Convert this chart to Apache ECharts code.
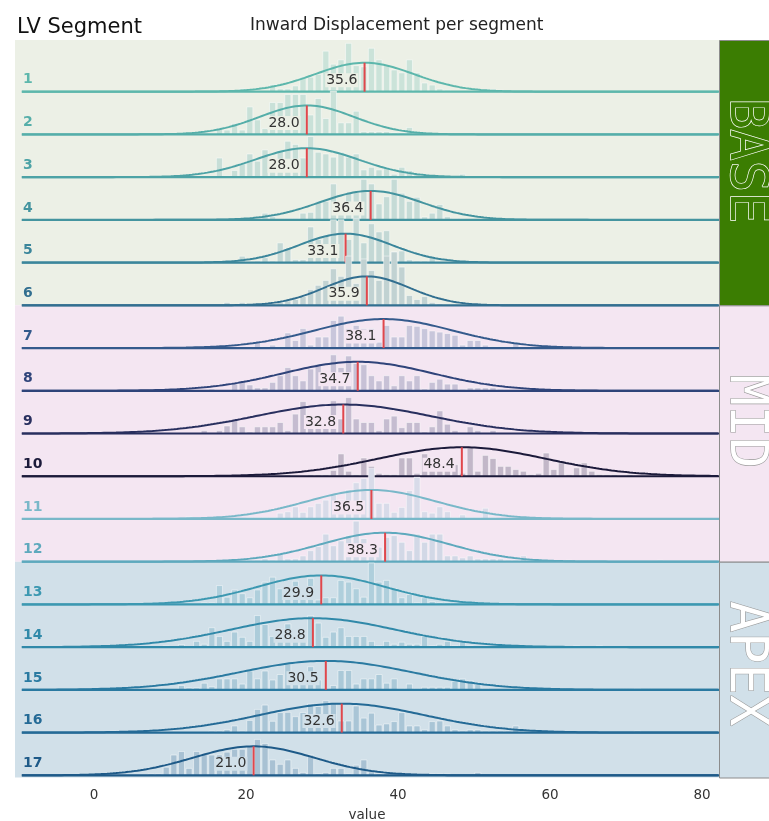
<!DOCTYPE html>
<html>
<head>
<meta charset="utf-8">
<script src="https://cdn.jsdelivr.net/npm/echarts@6/dist/echarts.min.js"></script>
<style>
  html, body { margin: 0; padding: 0; background: #ffffff; }
  #chart { width: 769px; height: 821px; }
</style>
</head>
<body>
<div id="chart"></div>
<script>
// ---- data ---------------------------------------------------------------
const segments = ['1','2','3','4','5','6','7','8','9','10','11','12','13','14','15','16','17'];
const segMeans = [35.6, 28.0, 28.0, 36.4, 33.1, 35.9, 38.1, 34.7, 32.8, 48.4, 36.5, 38.3, 29.9, 28.8, 30.5, 32.6, 21.0];
const segSpread = [6.5, 6.2, 6.8, 6.7, 6.1, 5.6, 9.1, 9.8, 11.4, 11.0, 8.5, 8.4, 8.4, 10.8, 11.4, 10.8, 8.0];

// histogram: first bin of each segment and bin heights (1-unit bins, density scale where fit peak = 10)
const histStart = [19, 16, 16, 22, 19, 17, 21, 15, -2, 25, 12, 20, 14, 9, 8, 2, 7];
const histCounts = [
  [1,0,0,0,2.5, 1,1,2,5,5, 6,14,9.5,11,16.7, 9,8.6,15,11,9, 7.5,6.5,11,6.5,3, 2.3,1,0.5,0,0, 0,0,0.8,0.8,0.5],
  [2,1.5,3.8,1.5,9.5, 5,2,11,11,13.8, 13.8,13.8,6.7,12.4,5.5, 15,4,4,8,1, 1,1,1,0.5,0.5, 2.4,0.5,0.5,0.3],
  [6.6,0.5,2.3,4.6,8, 5.5,9.4,5.5,9.2,12.4, 11.3,6.6,14,8.6,8, 6.9,8.6,6.9,8,2.5, 3.4,2.5,3.4,1,3.4, 2.3,1,0.5,0,0, 0,0,1],
  [2.3,1.1,0,0.5,0.5, 2.3,2.6,6.4,6.4,12.4, 6,9.2,9.5,14,12.4, 5.5,8,14,9.2,6.4, 7.8,1,2.3,5.3,1.1, 0.3,0.3,0,0,0, 0,0,0,0.5],
  [2.2,0,0.5,1.7,0.5, 6.8,4.8,1,1,12.3, 8,9.4,14.8,14.8,8, 15.2,6.8,13.4,10.6,11, 3.7,4,1,0.5,0.5, 1.8],
  [1,0,1,0,0, 0.5,0.5,1,1.5,2, 3,5.4,6.9,8.6,12.6, 10,17,7.5,16,12, 8.6,17,18.4,13.2,3.4, 2,3,1,0.5,0, 0,0,0,0,0, 0,0.5],
  [2,0.5,1,0.5,5.2, 2.6,6.7,1,3.8,3.8, 9.5,11,6.7,7.8,6.7, 6.7,2,7.8,3.8,3.8, 7.8,7.5,6.7,5.9,5.5, 5,4.4,1,2.6,2.6, 1,0.5,0.5,0,2],
  [0.6,0,0,2.3,3.4, 2,1,1,2.9,5.2, 8,5.2,3.4,7.5,9.2, 5.2,12.4,8,12,9.4, 9,5.2,3.4,5.2,1.7, 5.2,3.4,5.2,0.6,2.9, 4,2.3,2.3,0.5,1, 1,1,1,0.5,0, 0,0,0,0,0, 0,0,0,0,0.5],
  [0.6,0.6, 0,0,0,0,0, 0,0,0,0,0, 0,0,0,0, 1,0,1,2.6,4.6, 2.3,0.5,2.3,2.3,2.3, 3.8,1,6.7,11,4.4, 6,4.4,11.3,5,12.4, 5,3.8,3.8,1,5, 6,2,3.8,3.8,0.5, 2.3,7.8,3.2,1,0, 2.3,1,0,1,0, 0,0,0,0,0, 0,0,0,0.5],
  [0.5,0,0,0.5,0.5, 0.5,2,7.7,1.7,0.5, 6.3,3.4,1,0.6,0.6, 6.3,6.3,1,7.7,6.3, 4,2.9,4,1,9.8, 1.7,7.2,6.1,3.4,3.4, 2.3,1.7,0.6,1,8, 2.3,4.6,0.6,2.9,4.6, 1.7,0.6,0.5,0.5,0, 0.5],
  [0.8,0,0,0,0, 0,0,0,0.5,0.5, 0.5,0.5,2,2.5,4.2, 2.3,4.2,5.4,6.5,8.3, 6.5,10,12.5,14,17.5, 5.4,5.4,2.3,4,9.8, 14.4,2.5,2,4.2,2.5, 0.5,1.4,0.5,0.5,3.7, 0.5,0,0,0,0.5],
  [0.5,0.5,1,0.5, 2.9,1,1,2,3.8, 5.2,9.5,5.5,7.2,9, 14,8,6,5,8.4, 9,6.7,3.8,9.5,6.7, 9.5,9.5,2,2,1.3, 2,1,1,1,1, 0.5,0.5,2,0.5,0, 0,0,0,0.5,0, 0,0,0,0,0, 0,0,0,0,0, 0.5],
  [0.5,0.5,6.5,2.5,5, 3.7,2.3,5,7.7,9.4, 5.4,4,8,5,9, 1.5,2.3,2.3,8.3,7.7, 5.4,2.5,14.3,7.7,8.3, 5.4,2.3,3.4,0.5,2.3, 1,0.5,0.5],
  [0.5,0,0.9,0,2, 1,6.7,3.7,2,5.2, 3.4,2,10.9,7.8,3.7, 6.3,8,4,5,10.9, 8.3,3.4,5.2,6.7,3.7, 3.7,3.7,2,0.5,2, 1,1.7,1,1,3.7, 0.5,1,2,0.5,1.7, 0.5,0,0,0,0, 0,0,0,0,0, 0,0,0,0,0.5, 0,0,0.5],
  [0.5,0,0,1.5,0.7, 0.7,2.3,1.1,3.8,3.8, 3.8,2,6.5,3.8,6.5, 3.4,5.3,9,4,5, 8,3.4,0.5,1.5,6.7, 6.7,2,3.8,3.8,5.3, 2.3,3.8,0.5,2,0.5, 0.9,0.9,0.9,0.9,3, 3.8,3.2,1.8,0.5,0, 0,0,0,0,0.5, 0,0,0,0,0, 0,0,0,0,0, 0,0,0,0.5],
  [0.5, 0,0,0,0,0, 0,0,0,0,0, 0,0,0.5,0.5,1, 2.3,0.5,4.2,8,9.5, 3.9,6.9,7,5.5,6.9, 10,9,11,10,4, 4,9.2,5,6.7,2.6, 3,3.8,6.9,2.3,2.3, 1,3.8,4,2.3,1, 0.5,1,1,0.5,0.5, 0.5,0.5,2.3,0,0, 0,0,0,0.5,0, 0,0,0,0,0, 0,0,0,0.5],
  [0.5,0.5,2.8,7,8.2, 2.4,8.2,7.6,7,7, 8,9,9,10,12.4, 11,5.3,3.8,5.3,2.4, 1,7,0.5,1,2.4, 2.4,0.5,3.5,5.3,1.2, 0.5,0.5,0,0,0, 0,0.5,0.5,0.5,0.5, 0,0,0,1]
];

const sections = ['BASE', 'MID', 'APEX'];
const sectionSize = [6, 6, 5];
const xTicks = [0, 20, 40, 60, 80];

// ---- styling -------------------------------------------------------------
const rowColors = ['#5db7ac','#55aea9','#4da3a6','#44949f','#3b869b','#326f90',
                   '#345a8c','#2f447a','#282f5e','#1b1a3a',
                   '#79b8c9','#5ea9bd','#3c98b1','#3089a9','#2a7aa1','#246a96','#1e5a88'];
const sectionBg = ['#ecf0e6', '#f4e6f2', '#d1e0e9'];
const sideFill = ['#3b7d02', '#f4e6f2', '#d1e0e9'];
const sideText = [
  { fill: '#3b7d02', stroke: '#ffffff', lineWidth: 1.4, shift: -12 },
  { fill: '#ffffff', stroke: '#9a9a9a', lineWidth: 1.2, shift: -12 },
  { fill: '#ffffff', stroke: '#9a9a9a', lineWidth: 1.2, shift: -6 }
];
const meanColor = '#e0474c';
const FONT = '"DejaVu Sans", "Liberation Sans", Arial, sans-serif';

const FIT_PEAK = 10;      // density value of the fitted curve at the mean
const DENS = 0.0678;      // row heights per density unit
const X_MIN = -10.4, X_MAX = 82.24, LINE_START = -9.5;
const Y_MIN = -0.051, Y_MAX = 17.21;

const nRows = segments.length;
const rowBase = i => nRows - 1 - i;
const rowSection = i => { let acc = 0; for (let k = 0; k < sectionSize.length; k++) { acc += sectionSize[k]; if (i < acc) return k; } return sectionSize.length - 1; };

function mix(c1, c2, a) {
  const p = c => [1, 3, 5].map(o => parseInt(c.slice(o, o + 2), 16));
  const A = p(c1), B = p(c2);
  return 'rgb(' + A.map((v, j) => Math.round(v * a + B[j] * (1 - a))).join(',') + ')';
}

// ---- series --------------------------------------------------------------
const series = [];

// section bands in the plot and the labelled boxes on the right
series.push({
  type: 'custom', z: 1, silent: true, clip: false,
  data: sections.map((s, k) => [k]),
  renderItem(params, api) {
    const k = params.dataIndex;
    const cs = params.coordSys;
    let first = 0; for (let j = 0; j < k; j++) first += sectionSize[j];
    const last = first + sectionSize[k] - 1;
    const yTop = k === 0 ? cs.y : api.coord([0, rowBase(first - 1)])[1];
    const yBot = k === sections.length - 1 ? cs.y + cs.height : api.coord([0, rowBase(last)])[1];
    const x1 = cs.x + cs.width, x2 = api.getWidth();
    return {
      type: 'group',
      children: [
        { type: 'rect', shape: { x: cs.x, y: yTop, width: cs.width, height: yBot - yTop }, style: { fill: sectionBg[k] } },
        { type: 'rect', shape: { x: x1 + 0.5, y: yTop + 0.5, width: x2 - x1 + 2, height: yBot - yTop }, style: { fill: sideFill[k], stroke: '#8c8c8c', lineWidth: 1 } },
        { type: 'text', x: (x1 + x2) / 2 + 1, y: (yTop + yBot) / 2 + sideText[k].shift, rotation: -Math.PI / 2,
          style: { text: sections[k], font: '52px "DejaVu Sans Mono", monospace', align: 'center', verticalAlign: 'middle',
                   fill: sideText[k].fill, stroke: sideText[k].stroke, lineWidth: sideText[k].lineWidth } }
      ]
    };
  }
});

segments.forEach((name, i) => {
  const base = rowBase(i);
  const color = rowColors[i];
  const sec = rowSection(i);
  const barFill = mix(color, sectionBg[sec], 0.23);
  const zb = 10 + i * 5;

  // histogram bars
  series.push({
    type: 'custom', z: zb, silent: true,
    data: histCounts[i].map((c, j) => [histStart[i] + j, c]),
    renderItem(params, api) {
      const b = api.value(0), c = api.value(1);
      if (!c) return;
      const p0 = api.coord([b + 0.1, base]);
      const p1 = api.coord([b + 0.9, base + c * DENS]);
      return {
        type: 'rect',
        shape: { x: p0[0], y: p1[1], width: p1[0] - p0[0], height: p0[1] - p1[1] },
        style: { fill: barFill, stroke: 'rgba(255,255,255,0.6)', lineWidth: 0.8 }
      };
    }
  });

  // baseline
  series.push({
    type: 'line', z: zb + 1, silent: true, symbol: 'none',
    data: [[LINE_START, base], [X_MAX, base]],
    lineStyle: { color: color, width: 2.2 }
  });

  // normal fit drawn from the segment mean and spread
  const m = segMeans[i], s = segSpread[i];
  const curve = [];
  for (let x = LINE_START; x <= X_MAX + 1e-9; x += 0.2) {
    curve.push([x, base + DENS * FIT_PEAK * Math.exp(-0.5 * ((x - m) / s) ** 2)]);
  }
  series.push({
    type: 'line', z: zb + 2, silent: true, symbol: 'none', smooth: false,
    data: curve,
    lineStyle: { color: color, width: 2 }
  });

  // mean marker, value label and segment number
  series.push({
    type: 'custom', z: zb + 3, silent: true, clip: false,
    data: [[m, base]],
    renderItem(params, api) {
      const mv = api.value(0), b = api.value(1);
      const p0 = api.coord([mv, b]);
      const p1 = api.coord([mv, b + DENS * FIT_PEAK]);
      const pl = api.coord([mv - 3, b]);
      const cs = params.coordSys;
      return {
        type: 'group',
        children: [
          { type: 'line', shape: { x1: p0[0], y1: p0[1], x2: p1[0], y2: p1[1] }, style: { stroke: meanColor, lineWidth: 2 } },
          { type: 'text', x: pl[0], y: pl[1] - 11.5,
            style: { text: mv.toFixed(1), font: '14px ' + FONT, fill: '#333333', align: 'center', verticalAlign: 'middle',
                     backgroundColor: sectionBg[sec], padding: [0, 1] } },
          { type: 'text', x: cs.x + 8, y: p0[1] - 12,
            style: { text: name, font: 'bold 14px ' + FONT, fill: color, align: 'left', verticalAlign: 'middle' } }
        ]
      };
    }
  });
});

// ---- chart ---------------------------------------------------------------
const chart = echarts.init(document.getElementById('chart'), null, { renderer: 'canvas' });
chart.setOption({
  animation: false,
  backgroundColor: '#ffffff',
  textStyle: { fontFamily: FONT },
  title: [
    { text: 'LV Segment', left: 12, top: 12, textStyle: { fontSize: 21, fontWeight: 'normal', color: '#111111', fontFamily: FONT } },
    { text: 'Inward Displacement per segment', left: 245, top: 12, textStyle: { fontSize: 17, fontWeight: 'normal', color: '#222222', fontFamily: FONT } }
  ],
  grid: { left: 15, top: 40, width: 704, height: 737.5, containLabel: false, outerBoundsMode: 'none' },
  xAxis: {
    type: 'value', min: X_MIN, max: X_MAX,
    axisLine: { show: false }, axisTick: { show: false }, splitLine: { show: false },
    axisLabel: { customValues: xTicks, fontSize: 13.5, color: '#333333', margin: 11, fontFamily: FONT },
    name: 'value', nameLocation: 'middle', nameGap: 31,
    nameTextStyle: { fontSize: 13.5, color: '#333333', fontFamily: FONT }
  },
  yAxis: { type: 'value', min: Y_MIN, max: Y_MAX, show: false, splitLine: { show: false } },
  series: series
});
</script>
</body>
</html>
